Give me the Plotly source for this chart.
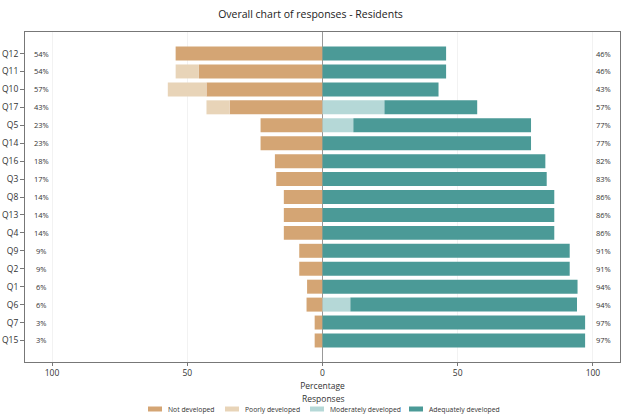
import plotly.graph_objects as go

questions = ["Q12", "Q11", "Q10", "Q17", "Q5", "Q14", "Q16", "Q3", "Q8", "Q13",
             "Q4", "Q9", "Q2", "Q1", "Q6", "Q7", "Q15"]
not_developed = [54.3, 45.7, 42.9, 34.3, 22.9, 22.9, 17.6, 17.1, 14.3, 14.3,
                 14.3, 8.6, 8.6, 5.7, 5.9, 2.9, 2.9]
poorly_developed = [0, 8.6, 14.3, 8.6, 0, 0, 0, 0, 0, 0,
                    0, 0, 0, 0, 0, 0, 0]
moderately_developed = [0, 0, 0, 22.9, 11.4, 0, 0, 0, 0, 0,
                        0, 0, 0, 0, 10.3, 0, 0]
adequately_developed = [45.7, 45.7, 42.9, 34.3, 65.7, 77.1, 82.4, 82.9, 85.7, 85.7,
                        85.7, 91.4, 91.4, 94.3, 83.8, 97.1, 97.1]
neg_labels = ["54%", "54%", "57%", "43%", "23%", "23%", "18%", "17%", "14%", "14%",
              "14%", "9%", "9%", "6%", "6%", "3%", "3%"]
pos_labels = ["46%", "46%", "43%", "57%", "77%", "77%", "82%", "83%", "86%", "86%",
              "86%", "91%", "91%", "94%", "94%", "97%", "97%"]
tick_vals = [-100, -50, 0, 50, 100]
tick_text = ["100", "50", "0", "50", "100"]
legend_names = ["Not developed", "Poorly developed", "Moderately developed", "Adequately developed"]
legend_colors = ["#D4A574", "#E8D4B8", "#B5D8D7", "#4B9A97"]

# layout geometry (pixels)
W, H = 621, 417
ML, MR, MT, MB = 25, 1, 32, 55
PW, PH = W - ML - MR, H - MT - MB
legend_key_px = [148, 225, 310, 409]
legend_row_py = 409
legend_title_py = 398


def px_x(px):
    return (px - ML) / PW


def px_y(py):
    return (H - MB - py) / PH


fig = go.Figure()
signed_series = [
    [-v for v in not_developed],
    [-v for v in poorly_developed],
    moderately_developed,
    adequately_developed,
]
for name, color, vals in zip(legend_names, legend_colors, signed_series):
    fig.add_trace(go.Bar(y=questions, x=vals, orientation="h", name=name,
                         marker_color=color, marker_line_width=0, showlegend=False))

annotations = []
for q, nl, pl in zip(questions, neg_labels, pos_labels):
    annotations.append(dict(x=-104, y=q, xref="x", yref="y", text=nl, showarrow=False,
                            font=dict(size=7.5, color="#333")))
    annotations.append(dict(x=104, y=q, xref="x", yref="y", text=pl, showarrow=False,
                            font=dict(size=7.5, color="#333")))

# custom legend
shapes = []
annotations.append(dict(x=0.5, y=px_y(legend_title_py), xref="paper", yref="paper",
                        text="Responses", showarrow=False, xanchor="center", yanchor="middle",
                        font=dict(size=8.5, color="#333")))
for name, color, kx in zip(legend_names, legend_colors, legend_key_px):
    shapes.append(dict(type="rect", xref="paper", yref="paper",
                       x0=px_x(kx), x1=px_x(kx + 14),
                       y0=px_y(legend_row_py + 2.5), y1=px_y(legend_row_py - 2.5),
                       fillcolor=color, line=dict(width=0)))
    annotations.append(dict(x=px_x(kx + 18), y=px_y(legend_row_py), xref="paper", yref="paper",
                            text=name, showarrow=False, xanchor="left", yanchor="middle",
                            font=dict(size=6.8, color="#333")))

fig.update_layout(
    width=W, height=H,
    barmode="relative",
    bargap=0.22,
    showlegend=False,
    paper_bgcolor="white",
    plot_bgcolor="white",
    font=dict(family="Open Sans", size=9, color="#333"),
    title=dict(text="Overall chart of responses - Residents", x=0.5, xanchor="center",
               y=0.965, yanchor="middle", font=dict(size=10.5, color="#222")),
    margin=dict(l=ML, r=MR, t=MT, b=MB, autoexpand=False),
    annotations=annotations,
    shapes=shapes,
    xaxis=dict(range=[-110, 110], tickvals=tick_vals, ticktext=tick_text,
               showgrid=True, gridcolor="#f2f2f2", gridwidth=1,
               zeroline=True, zerolinecolor="#999", zerolinewidth=1,
               showline=True, linecolor="#777", linewidth=1, mirror=True,
               ticks="outside", ticklen=3, tickcolor="#777",
               title=dict(text="Percentage", standoff=5, font=dict(size=8.5)),
               tickfont=dict(size=8.5)),
    yaxis=dict(categoryorder="array", categoryarray=questions, range=[17.2, -1.2],
               showgrid=False, showline=True, linecolor="#777", linewidth=1, mirror=True,
               ticks="outside", ticklen=4, tickcolor="#777", tickfont=dict(size=8.5)),
)

fig.write_html("out.html")
